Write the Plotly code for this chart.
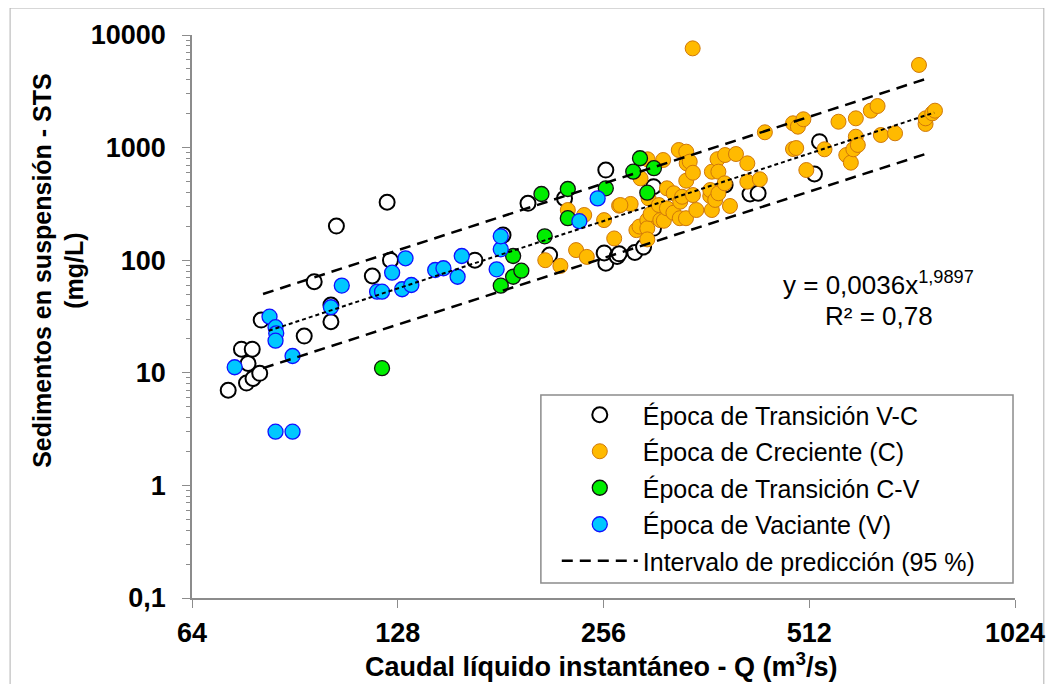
import plotly.graph_objects as go

# ---------------- data ----------------
q_vc = [72.3, 76.9, 78.6, 80.4, 77.3, 75.6, 78.4, 80.8, 93.4, 96.6, 102.2, 102.2, 104.1,
        117.5, 123.5, 124.9, 166, 182.5, 198.5, 224.5, 213.5, 258, 258, 256.6, 268, 269.8,
        284.5, 293, 303, 303, 385.6, 419.4, 431, 521, 530]
sts_vc = [7.0, 8.1, 8.9, 9.9, 12.1, 16.2, 16.2, 29.4, 21.2, 64.4, 28.4, 40, 201,
          72.4, 327, 100, 100, 167, 320, 354, 111, 632, 94, 116, 108, 114,
          117, 131, 450, 192, 466, 387, 393, 583, 1129]

q_c = [210.4, 221.4, 233.4, 242, 227, 239.9, 256.5, 265.4, 269.8, 280.5, 271, 286, 289, 290,
       297, 296.7, 296.7, 296.7, 298, 300, 308.5, 310, 313, 313.7, 317, 317, 324.3, 324,
       329.9, 331.5, 331, 333.6, 338.3, 338.3, 338.8, 338, 342.3, 345.7, 346, 346, 350,
       366.8, 366.8, 368.8, 368.8, 373, 375.9, 377, 377, 385, 385.6, 392, 400, 415.6,
       415.6, 433.5, 440.9, 484.7, 492.8, 502, 484.7, 490, 507, 539, 565, 580, 589, 594,
       599, 599, 603, 630, 644.5, 651.7, 683.6, 741, 757.6, 757.6, 775, 782]
sts_c = [100, 89, 123, 107, 279, 252, 227, 156, 305, 316, 309, 185, 199, 533,
         787, 227, 192, 153, 354, 257, 309, 227, 776, 224, 435, 289, 393, 264,
         952, 331, 236, 366, 920, 508, 725, 236, 750, 7610, 598, 379, 279,
         372, 420, 611, 279, 343, 790, 611, 393, 482, 859, 303, 877, 725,
         498, 523, 1368, 1644, 1534, 1785, 972, 991, 632, 966, 1698, 859, 735, 966,
         1820, 1250, 1055, 2128, 2340, 1294, 1340, 5420, 1621, 1820, 2017, 2128]

q_cv = [121.4, 181.1, 188.8, 194.1, 188.8, 207.7, 210, 227, 227, 258, 283, 289.5, 296.7, 303.4]
sts_cv = [11, 59.4, 71.3, 80.7, 109, 387, 163, 429, 236, 435, 611, 804, 398, 656]

q_v = [73.9, 83.1, 84.8, 85.0, 84.8, 84.8, 89.8, 89.8, 102.2, 106, 119.4, 121.4, 125.6,
       129.9, 131.4, 134, 145.2, 149.3, 156.6, 158.8, 178.6, 181.1, 181.1, 236, 251]
sts_v = [11.2, 31.5, 25.4, 22.4, 19.3, 3.0, 3.0, 14.1, 38.2, 59.5, 52.5, 52.5, 77.5,
         55.2, 104, 60.2, 81.8, 84.8, 71.3, 109, 83, 125, 163, 222, 354]

# regression y = 0,0036 x^1,9897 and prediction interval end points
a_coef = 0.0036
b_coef = 1.9897
fit_q = [82.9, 780.0]
fit_sts = [a_coef * q ** b_coef for q in fit_q]
pi_q = [81.3, 757.6]
pi_upper = [50.1, 4064.0]
pi_lower = [11.0, 877.0]

x_tickvals = [64, 128, 256, 512, 1024]
x_ticktext = ["64", "128", "256", "512", "1024"]
y_tickvals = [0.1, 1, 10, 100, 1000, 10000]
y_ticktext = ["0,1", "1", "10", "100", "1000", "10000"]

names = ["Época de Transición V-C", "Época de Creciente (C)",
         "Época de Transición C-V", "Época de Vaciante (V)",
         "Intervalo de predicción (95 %)"]

# ---------------- geometry ----------------
# the page body has an 8px margin, so the figure is shifted by 8px
OFF = 8
W, H = 1057 - OFF, 684 - OFF
L, T = 192 - OFF, 35 - OFF
PW, PH = 828, 563
R = W - L - PW
B = H - T - PH


def px(xp):  # reference-screen x -> paper
    return (xp - 192) / PW


def py(yp):  # reference-screen y -> paper
    return (598 - yp) / PH


FONT = "Liberation Sans, Arial, sans-serif"

fig = go.Figure()
series = [
    (q_vc, sts_vc, names[0], "white", "black", 2.0),
    (q_c, sts_c, names[1], "#FFBA00", "#D0780A", 1.0),
    (q_cv, sts_cv, names[2], "#00EE00", "#111111", 1.3),
    (q_v, sts_v, names[3], "#00C8FF", "#1010FF", 1.3),
]
for i, (xs, ys, nm, fc, lc, lw) in enumerate(series):
    fig.add_trace(go.Scatter(
        x=xs, y=ys, mode="markers", name=nm, legendgroup=f"g{i}",
        marker=dict(size=15, color=fc, line=dict(color=lc, width=lw)),
    ))

fig.add_trace(go.Scatter(x=fit_q, y=fit_sts, mode="lines", showlegend=False,
                         line=dict(color="black", width=2, dash="4px,3px")))
fig.add_trace(go.Scatter(x=pi_q, y=pi_upper, mode="lines", name=names[4], legendgroup="g4",
                         line=dict(color="black", width=2.5, dash="11px,7px")))
fig.add_trace(go.Scatter(x=pi_q, y=pi_lower, mode="lines", showlegend=False, legendgroup="g4",
                         line=dict(color="black", width=2.5, dash="11px,7px")))

fig.update_layout(
    width=W, height=H,
    margin=dict(l=L, r=R, t=T, b=B, pad=0),
    paper_bgcolor="white", plot_bgcolor="white",
    font=dict(family=FONT, color="black"),
    showlegend=True,
    legend=dict(
        x=px(559), y=py(392), xanchor="left", yanchor="top",
        bgcolor="rgba(0,0,0,0)", borderwidth=0,
        font=dict(size=25, family=FONT, color="black"),
        itemwidth=76, tracegroupgap=1, traceorder="grouped",
    ),
    xaxis=dict(
        type="log", range=[1.80618, 3.0103],
        tickvals=x_tickvals, ticktext=x_ticktext,
        tickfont=dict(size=27, family=FONT, color="black", weight="bold"),
        ticks="outside", ticklen=8, tickwidth=1.3, tickcolor="#8c8c8c",
        showline=True, linecolor="#8c8c8c", linewidth=1.5,
        showgrid=False, zeroline=False, ticklabelstandoff=2,
    ),
    yaxis=dict(
        type="log", range=[-1, 4],
        tickvals=y_tickvals, ticktext=y_ticktext,
        tickfont=dict(size=27, family=FONT, color="black", weight="bold"),
        ticks="outside", ticklen=8, tickwidth=1.3, tickcolor="#8c8c8c",
        minor=dict(ticks="outside", ticklen=4, tickwidth=1, tickcolor="#8c8c8c", dtick="D1"),
        showline=True, linecolor="#8c8c8c", linewidth=1.5,
        showgrid=False, zeroline=False, ticklabelstandoff=11,
    ),
    shapes=[
        dict(type="rect", xref="paper", yref="paper",
             x0=px(543), x1=px(1018), y0=py(583), y1=py(395),
             line=dict(color="#8c8c8c", width=1.5), fillcolor="white", layer="below"),
        dict(type="rect", xref="paper", yref="paper",
             x0=px(9), x1=px(1049), y0=py(720), y1=py(8),
             line=dict(color="#b0b0b0", width=1), fillcolor="rgba(0,0,0,0)", layer="below"),
    ],
    annotations=[
        dict(text="<b>Caudal líquido instantáneo - Q (m<sup>3</sup>/s)</b>",
             xref="paper", yref="paper", x=px(604), y=py(665),
             xanchor="center", yanchor="middle", showarrow=False,
             font=dict(size=27, family=FONT, color="black")),
        dict(text="<b>Sedimentos en suspensión - STS<br>(mg/L)</b>",
             xref="paper", yref="paper", x=px(57), y=py(270), textangle=-90,
             xanchor="center", yanchor="middle", showarrow=False, align="center",
             font=dict(size=25, family=FONT, color="black")),
        dict(text="y = 0,0036x<sup>1,9897</sup>",
             xref="paper", yref="paper", x=px(883), y=py(283),
             xanchor="center", yanchor="middle", showarrow=False,
             font=dict(size=26, family=FONT, color="black")),
        dict(text="R² = 0,78",
             xref="paper", yref="paper", x=px(883), y=py(316),
             xanchor="center", yanchor="middle", showarrow=False,
             font=dict(size=26, family=FONT, color="black")),
    ],
)

fig.write_html("out.html")
